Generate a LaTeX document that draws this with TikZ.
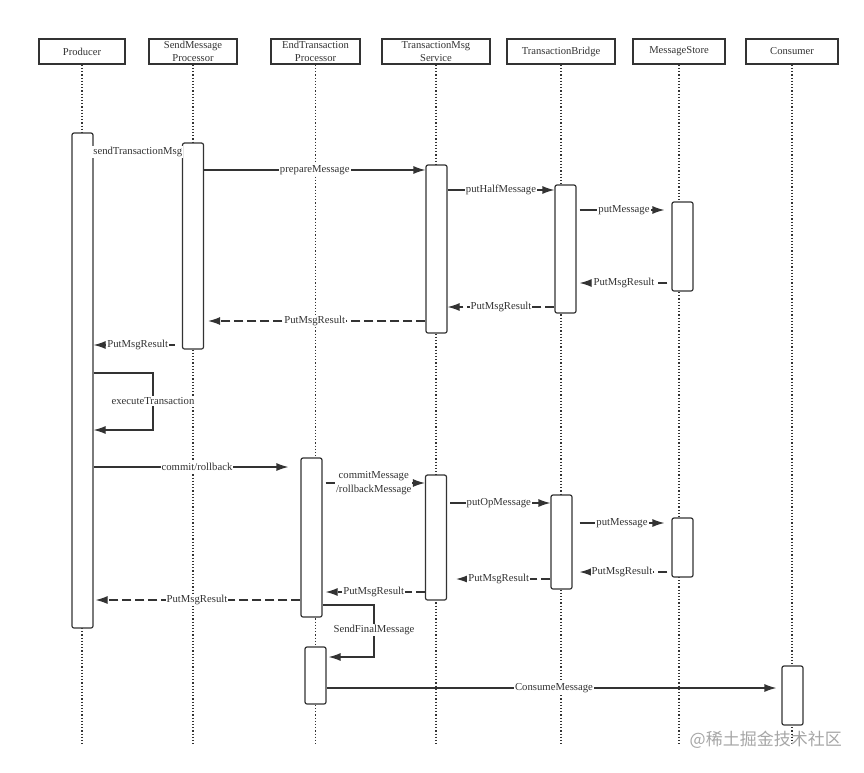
\documentclass[tikz,border=0pt]{standalone}
\usepackage{fontspec}
\setmainfont{Liberation Serif}
\newfontfamily\cjk{Noto Sans CJK SC}
\usepackage{xcolor}
\usepackage{tikz}
\usetikzlibrary{arrows.meta,positioning}
\definecolor{ink}{HTML}{333333}

\begin{document}
\begin{tikzpicture}[x=1pt,y=-1pt,
    actor/.style={draw=ink, line width=1.4pt, minimum height=25pt, inner sep=0pt, align=center, text=ink, font=\fontsize{10.6}{12.5}\selectfont},
    life/.style={draw=ink, line width=1.2pt, dotted},
    act/.style={draw=ink, fill=white, line width=1.2pt, rounded corners=2pt, minimum width=21pt, inner sep=0pt},
    msg/.style={draw=ink, line width=1.2pt, -{Latex[length=12pt,width=8pt]}},
    ret/.style={msg, dash pattern=on 9pt off 4pt},
    lbl/.style={fill=white, inner sep=1pt, text=ink, font=\fontsize{10.7}{14}\selectfont}]
    \useasboundingbox (0,0) rectangle (864,772);

    % participants
    \node [actor, minimum width=86pt] (producer) at (82,51.5) {Producer};
    \node [actor, minimum width=88pt] (sendProc) at (193,51.5) {SendMessage\\Processor};
    \node [actor, minimum width=89pt] (endProc) at (315.5,51.5) {EndTransaction\\Processor};
    \node [actor, minimum width=108pt] (txService) at (436,51.5) {TransactionMsg\\Service};
    \node [actor, minimum width=108pt] (txBridge) at (561,51.5) {TransactionBridge};
    \node [actor, minimum width=92pt] (msgStore) at (679,51.5) {MessageStore};
    \node [actor, minimum width=92pt] (consumer) at (792,51.5) {Consumer};

    % lifelines
    \foreach \p in {producer,sendProc,endProc,txService,txBridge,msgStore,consumer}
        \draw [life] (\p.south) -- (\p.south |- 0,746);

    % activations
    \node [act, minimum height=495pt] (prodAct) at (82.5,380.5) {};
    \node [act, minimum height=206pt] (sendAct) at (193,246) {};
    \node [act, minimum height=168pt] (serviceAct) at (436.5,249) {};
    \node [act, minimum height=128pt] (bridgeAct) at (565.5,249) {};
    \node [act, minimum height=89pt] (storeAct) at (682.5,246.5) {};
    \node [act, minimum height=159pt] (endAct) at (311.5,537.5) {};
    \node [act, minimum height=125pt] (serviceAct2) at (436,537.5) {};
    \node [act, minimum height=94pt] (bridgeAct2) at (561.5,542) {};
    \node [act, minimum height=59pt] (storeAct2) at (682.5,547.5) {};
    \node [act, minimum height=57pt] (endAct2) at (315.5,675.5) {};
    \node [act, minimum height=59pt] (consAct) at (792.5,695.5) {};

    % half message
    \draw [msg] (prodAct.east |- 0,152) -- node[lbl] {sendTransactionMsg} (sendAct.west |- 0,152);
    \draw [msg] (sendAct.east |- 0,170) -- node[lbl] {prepareMessage} (serviceAct.west |- 0,170);
    \draw [msg] (serviceAct.east |- 0,190) -- node[lbl] {putHalfMessage} (bridgeAct.west |- 0,190);
    \draw [msg, shorten <=3pt, shorten >=7pt] (bridgeAct.east |- 0,210) -- node[lbl] {putMessage} (storeAct.west |- 0,210);
    \draw [ret, shorten <=4pt, shorten >=3pt] (storeAct.west |- 0,283) -- node[lbl] {PutMsgResult} (bridgeAct.east |- 0,283);
    \draw [ret] (bridgeAct.west |- 0,307) -- node[lbl] {PutMsgResult} (serviceAct.east |- 0,307);
    \draw [ret, shorten >=4pt] (serviceAct.west |- 0,321) -- node[lbl] {PutMsgResult} (sendAct.east |- 0,321);
    \draw [ret, shorten <=7pt] (sendAct.west |- 0,345) -- node[lbl] {PutMsgResult} (prodAct.east |- 0,345);

    % local transaction
    \draw [msg] (prodAct.east |- 0,373) -| (153,401) node[lbl] {executeTransaction} |- (prodAct.east |- 0,430);

    % commit or rollback
    \draw [msg, shorten >=12pt] (prodAct.east |- 0,467) -- node[lbl] {commit/rollback} (endAct.west |- 0,467);
    \draw [msg, shorten <=3pt] (endAct.east |- 0,483) -- node[lbl, align=center] {commitMessage\\/rollbackMessage} (serviceAct2.west |- 0,483);
    \draw [msg, shorten <=3pt] (serviceAct2.east |- 0,503) -- node[lbl] {putOpMessage} (bridgeAct2.west |- 0,503);
    \draw [msg, shorten <=7pt, shorten >=7pt] (bridgeAct2.east |- 0,523) -- node[lbl] {putMessage} (storeAct2.west |- 0,523);
    \draw [ret, shorten <=4pt, shorten >=7pt] (storeAct2.west |- 0,572) -- node[lbl] {PutMsgResult} (bridgeAct2.east |- 0,572);
    \draw [ret, shorten >=9pt] (bridgeAct2.west |- 0,579) -- node[lbl] {PutMsgResult} (serviceAct2.east |- 0,579);
    \draw [ret, shorten >=3pt] (serviceAct2.west |- 0,592) -- node[lbl] {PutMsgResult} (endAct.east |- 0,592);
    \draw [ret, shorten >=2pt] (endAct.west |- 0,600) -- node[lbl] {PutMsgResult} (prodAct.east |- 0,600);

    % deliver
    \draw [msg, shorten >=2pt] (endAct.east |- 0,605) -| (374,630) node[lbl] {SendFinalMessage} |- (endAct2.east |- 0,657);
    \draw [msg, shorten >=5pt] (endAct2.east |- 0,688) -- node[lbl] {ConsumeMessage} (consAct.west |- 0,688);

    \node [anchor=east, text=black!35, inner sep=0pt, font=\cjk\fontsize{17}{17}\selectfont] (mark) at (842,740) {@稀土掘金技术社区};
\end{tikzpicture}
\end{document}
